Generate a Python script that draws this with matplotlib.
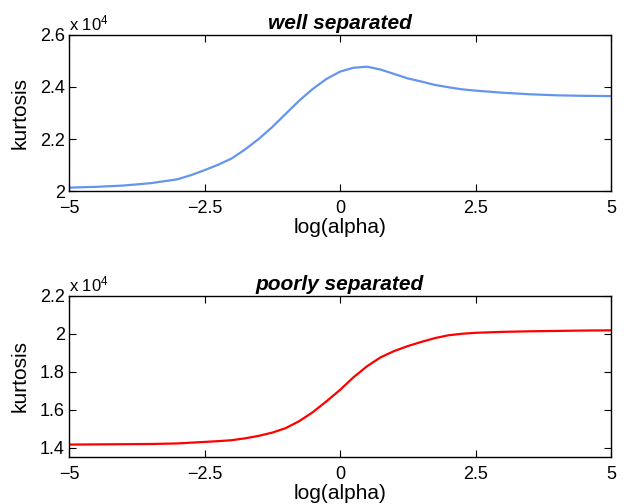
import matplotlib
matplotlib.use("Agg")
import matplotlib.pyplot as plt
from matplotlib.ticker import FuncFormatter

plt.rcParams['font.family'] = ['Liberation Sans', 'DejaVu Sans']
plt.rcParams['mathtext.fontset'] = 'custom'
plt.rcParams['mathtext.rm'] = 'Liberation Sans'
plt.rcParams['mathtext.it'] = 'Liberation Sans:italic'

# log(alpha) sample positions
x_vals = [-5, -4.5, -4, -3.5, -3, -2.75, -2.5, -2.25, -2, -1.75, -1.5, -1.25, -1, -0.75,
          -0.5, -0.25, 0, 0.25, 0.5, 0.75, 1, 1.25, 1.5, 1.75, 2, 2.25, 2.5, 3, 3.5, 4,
          4.5, 5]
# kurtosis (x 1e4), well separated
well_vals = [2.013, 2.016, 2.021, 2.030, 2.045, 2.061, 2.080, 2.101, 2.125, 2.160, 2.200,
             2.246, 2.297, 2.348, 2.393, 2.431, 2.459, 2.474, 2.478, 2.467, 2.450, 2.433,
             2.421, 2.408, 2.399, 2.391, 2.386, 2.378, 2.372, 2.368, 2.366, 2.365]
# kurtosis (x 1e4), poorly separated
poor_vals = [1.417, 1.418, 1.419, 1.420, 1.423, 1.427, 1.431, 1.435, 1.440, 1.450, 1.463,
             1.480, 1.504, 1.541, 1.588, 1.645, 1.705, 1.772, 1.830, 1.877, 1.910, 1.936,
             1.958, 1.978, 1.993, 2.001, 2.006, 2.011, 2.014, 2.016, 2.018, 2.019]

x_ticks = [-5, -2.5, 0, 2.5, 5]
well_yticks = [2.0, 2.2, 2.4, 2.6]
poor_yticks = [1.4, 1.6, 1.8, 2.0, 2.2]

fig = plt.figure(figsize=(6.25, 5.04), dpi=100)
ax1 = fig.add_axes([0.1104, 0.621, 0.8672, 0.3096])
ax2 = fig.add_axes([0.1104, 0.0938, 0.8672, 0.3189])

fmt_y = FuncFormatter(lambda v, p: ('%g' % round(v, 3)))
fmt_x = FuncFormatter(lambda v, p: ('%g' % v).replace('-', '\u2212'))

def style(ax, yticks, ylim, title):
    ax.set_xlim(-5, 5)
    ax.set_ylim(*ylim)
    ax.set_xticks(x_ticks)
    ax.set_yticks(yticks)
    ax.xaxis.set_major_formatter(fmt_x)
    ax.yaxis.set_major_formatter(fmt_y)
    ax.tick_params(direction='in', top=True, right=True, length=5, width=0.8,
                   labelsize=13)
    ax.tick_params(axis='x', pad=6.5)
    ax.tick_params(axis='y', pad=3)
    for s in ax.spines.values():
        s.set_linewidth(1.0)
    ax.set_xlabel('log(alpha)', fontsize=15, labelpad=1)
    ax.set_ylabel('kurtosis', fontsize=15, labelpad=7)
    ax.set_title(title, fontsize=15, fontweight='bold', fontstyle='italic', pad=4)
    ax.text(0.0, 1.008, r'x 10$^{4}$', transform=ax.transAxes, ha='left', va='bottom',
            fontsize=12)

ax1.plot(x_vals, well_vals, color='#6495ED', linewidth=1.6)
style(ax1, well_yticks, (2.0, 2.6), 'well separated')

ax2.plot(x_vals, poor_vals, color='#FF0000', linewidth=1.6)
style(ax2, poor_yticks, (1.353, 2.2), 'poorly separated')

fig.savefig('out.png', dpi=100)
